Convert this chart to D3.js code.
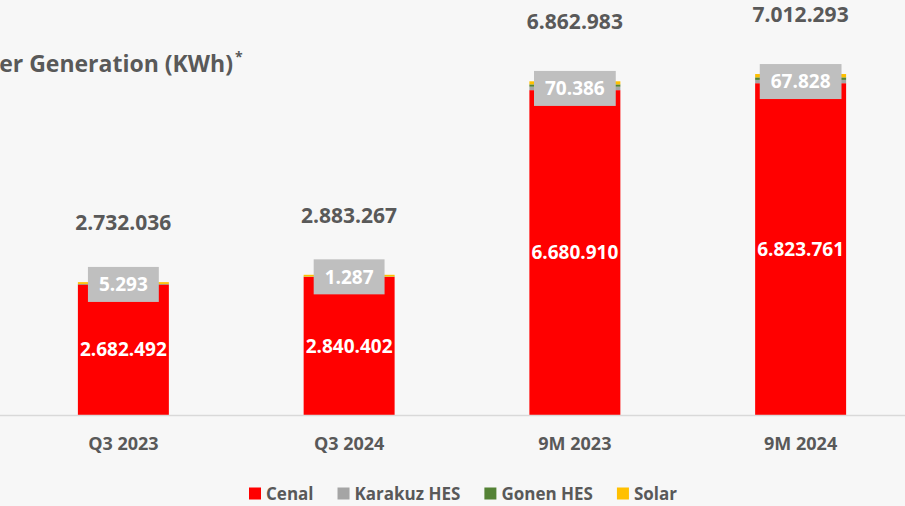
<!DOCTYPE html>
<html>
<head>
<meta charset="utf-8">
<script src="https://cdn.jsdelivr.net/npm/d3@7/dist/d3.min.js"></script>
<style>
  html, body { margin: 0; padding: 0; background: #f7f7f7; }
  svg { display: block; font-family: "Open Sans", "DejaVu Sans", sans-serif; }
</style>
</head>
<body>
<svg id="chart" width="905" height="506"></svg>
<script>
// ---- data ----
const categories = ["Q3 2023", "Q3 2024", "9M 2023", "9M 2024"];
const seriesNames = ["Cenal", "Karakuz HES", "Gonen HES", "Solar"];
const cenal   = [2682492, 2840402, 6680910, 6823761];
const karakuz = [5293, 1287, 70386, 67828];
const gonen   = [8000, 6000, 48000, 52000];
const solar   = [36251, 35578, 63687, 68704];
const seriesColors = ["#ff0000", "#a5a5a5", "#548235", "#ffc000"];
const titleText = "er Generation (KWh)";

// ---- build ----
const rows = categories.map((c, i) => ({
  cat: c, "Cenal": cenal[i], "Karakuz HES": karakuz[i], "Gonen HES": gonen[i], "Solar": solar[i]
}));
const totals = rows.map(r => seriesNames.reduce((s, k) => s + r[k], 0));

const loc = d3.formatLocale({decimal: ",", thousands: ".", grouping: [3], currency: ["", ""]});
const fmt = loc.format(",d");

const svg = d3.select("#chart");
const W = 905, H = 506;
svg.append("rect").attr("width", W).attr("height", H).attr("fill", "#f7f7f7");

const x = d3.scaleBand().domain(categories).range([0, 924]).paddingInner(0.597).paddingOuter(0.345);
const y = d3.scaleLinear().domain([0, 8000000]).range([415, 26]);
const color = d3.scaleOrdinal().domain(seriesNames).range(seriesColors);

const stack = d3.stack().keys(seriesNames)(rows);

// bars
svg.append("g").selectAll("g").data(stack).join("g")
  .attr("fill", d => color(d.key))
  .selectAll("rect").data(d => d).join("rect")
  .attr("x", d => x(d.data.cat))
  .attr("width", x.bandwidth())
  .attr("y", d => y(d[1]))
  .attr("height", d => y(d[0]) - y(d[1]));

// x axis
const xAxis = svg.append("g").attr("transform", `translate(0,${y(0)})`)
  .call(d3.axisBottom(x).tickSize(0).tickPadding(22));
xAxis.select(".domain").remove();
xAxis.append("line").attr("x1", 0).attr("x2", W).attr("y1", 0.5).attr("y2", 0.5)
  .attr("stroke", "#d9d9d9").attr("stroke-width", 1.5);
xAxis.selectAll(".tick text")
  .attr("font-family", "Open Sans").attr("font-weight", "bold")
  .attr("font-size", 18).attr("fill", "#595959");

// Cenal labels (centered in segment)
const cenalLayer = stack[0];
svg.append("g").selectAll("text").data(cenalLayer).join("text")
  .attr("x", d => x(d.data.cat) + x.bandwidth() / 2)
  .attr("y", d => (y(d[0]) + y(d[1])) / 2)
  .attr("dy", "0.35em")
  .attr("text-anchor", "middle")
  .attr("font-weight", "bold").attr("font-size", 19).attr("fill", "#ffffff")
  .text(d => fmt(d[1] - d[0]));

// Karakuz labels with gray box
const karLayer = stack[1];
const kg = svg.append("g").selectAll("g").data(karLayer).join("g")
  .attr("transform", d => `translate(${x(d.data.cat) + x.bandwidth() / 2},${(y(d[0]) + y(d[1])) / 2})`);
kg.append("text")
  .attr("text-anchor", "middle").attr("dy", "0.35em")
  .attr("font-weight", "bold").attr("font-size", 19).attr("fill", "#ffffff")
  .text(d => fmt(d[1] - d[0]));
kg.each(function() {
  const g = d3.select(this);
  const w = g.select("text").node().getComputedTextLength();
  g.insert("rect", "text")
    .attr("x", -w / 2 - 11).attr("y", -17.5)
    .attr("width", w + 22).attr("height", 35)
    .attr("fill", "#bfbfbf");
});

// totals
svg.append("g").selectAll("text").data(categories).join("text")
  .attr("x", d => x(d) + x.bandwidth() / 2)
  .attr("y", (d, i) => y(totals[i]) - 52)
  .attr("text-anchor", "middle")
  .attr("font-weight", "bold").attr("font-size", 21).attr("fill", "#595959")
  .text((d, i) => fmt(totals[i]));

// title (visible part of the reference title)
svg.append("text").attr("x", 233).attr("y", 72).attr("text-anchor", "end")
  .attr("font-weight", "bold").attr("font-size", 23).attr("fill", "#595959")
  .text(titleText);
svg.append("text").attr("x", 235).attr("y", 62)
  .attr("font-weight", "bold").attr("font-size", 14).attr("fill", "#595959")
  .text("*");

// legend
const lg = svg.append("g").attr("transform", "translate(249,494)");
let lx = 0;
seriesNames.forEach((name) => {
  const item = lg.append("g").attr("transform", `translate(${lx},0)`);
  item.append("rect").attr("x", 0).attr("y", -6.5).attr("width", 12).attr("height", 12).attr("fill", color(name));
  const t = item.append("text").attr("x", 17).attr("dy", "0.35em")
    .attr("font-weight", "bold").attr("font-size", 17).attr("fill", "#595959").text(name);
  lx += 17 + t.node().getComputedTextLength() + 24;
});
</script>
</body>
</html>
